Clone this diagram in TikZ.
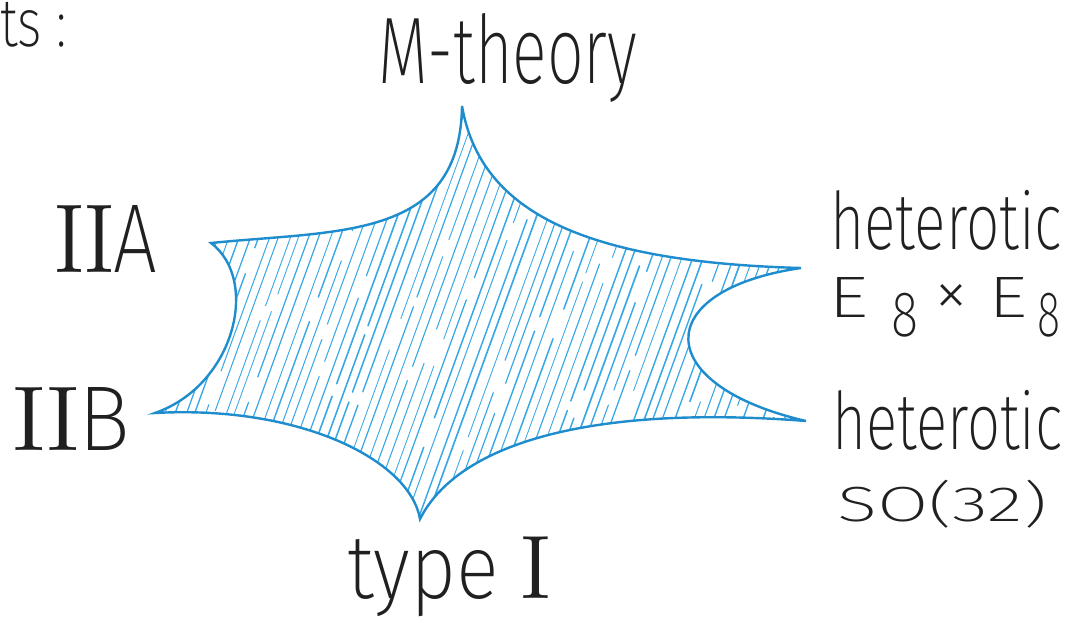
\documentclass[tikz,border=0pt]{standalone}
\usepackage{fontspec}
\usepackage{graphicx}
\newfontfamily\hand{Fira Sans ExtraLight}
\definecolor{ink}{RGB}{32,32,32}
\definecolor{edgec}{RGB}{30,140,205}
\definecolor{hatchc}{RGB}{55,168,228}
\newcommand\lab[3]{\resizebox*{#1pt}{#2pt}{#3}}
\newcommand\rI{{\rmfamily I}}
\begin{document}
\begin{tikzpicture}[x=1pt,y=-1pt,
  lbl/.style={inner sep=0pt, anchor=north west, text=ink, font=\hand},
  outline/.style={draw=edgec, line width=2.4pt, line join=miter},
  hatch/.style={draw=hatchc, line cap=round}]
\useasboundingbox (0,0) rectangle (1069,623);
\coordinate (T) at (462,106);
\coordinate (E) at (801,268);
\coordinate (S) at (806,421);
\coordinate (Bt) at (420,519);
\coordinate (B) at (155,413);
\coordinate (A) at (211,243);
\begin{scope}
\clip (T) .. controls (480,210) and (580,262) .. (E)
  .. controls (650,290) and (650,385) .. (S)
  .. controls (600,405) and (460,440) .. (Bt)
  .. controls (410,460) and (300,405) .. (B)
  .. controls (235,385) and (260,280) .. (A)
  .. controls (340,230) and (460,240) .. (T) -- cycle;
\pgfmathsetseed{11}
\foreach \i in {0,...,68}{
  \pgfmathsetmacro\u{98+10*\i+3*rnd}
  \pgfmathsetmacro\a{0.2+0.55*rnd}
  \pgfmathsetmacro\b{\a+0.02+0.06*rnd}
  \pgfmathsetmacro\w{0.8+0.9*rnd}
  \pgfmathsetmacro\xa{\u+160*\a}
  \pgfmathsetmacro\ya{540-440*\a}
  \pgfmathsetmacro\xb{\u+160*\b}
  \pgfmathsetmacro\yb{540-440*\b}
  \draw[hatch, line width=\w pt] (\u,540) -- (\xa,\ya) (\xb,\yb) -- (\u+160,100);
}
\end{scope}
\draw[outline] (T) .. controls (480,210) and (580,262) .. (E)
  .. controls (650,290) and (650,385) .. (S)
  .. controls (600,405) and (460,440) .. (Bt)
  .. controls (410,460) and (300,405) .. (B)
  .. controls (235,385) and (260,280) .. (A)
  .. controls (340,230) and (460,240) .. (T);
\node[lbl] (ts) at (0,2) {\lab{67}{45}{ts :}};
\node[lbl] (mth) at (378,13) {\lab{259}{89}{M-theory}};
\node[lbl] (iia) at (55,205) {\lab{102}{67}{\rI\rI A}};
\node[lbl] (iib) at (13,387) {\lab{117}{63}{\rI\rI B}};
\node[lbl] (tpi) at (347,537) {\lab{203}{80}{type \rI}};
\node[lbl] (het1) at (830,190) {\lab{232}{60}{heterotic}};
\node[lbl] (e8a) at (828,277) {\lab{40}{40}{E}};
\node[lbl] (e8b) at (891,293) {\lab{27}{44}{8}};
\node[lbl] (e8x) at (934,284) {\lab{34}{32}{×}};
\node[lbl] (e8c) at (988,277) {\lab{39}{40}{E}};
\node[lbl] (e8d) at (1037,293) {\lab{23}{44}{8}};
\node[lbl] (het2) at (832,390) {\lab{230}{60}{heterotic}};
\node[lbl] (so) at (837,480) {\lab{210}{48}{SO(32)}};
\end{tikzpicture}
\end{document}
